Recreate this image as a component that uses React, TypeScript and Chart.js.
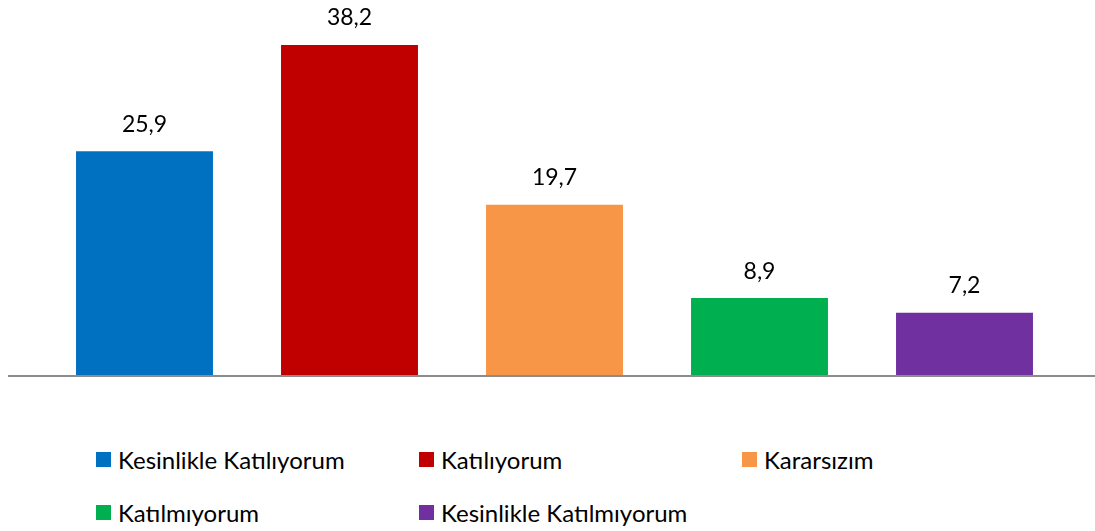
import React, { useEffect, useRef } from "react";
import { Chart, registerables } from "chart.js";

Chart.register(...registerables);

const categories = [
  "Kesinlikle Katılıyorum",
  "Katılıyorum",
  "Kararsızım",
  "Katılmıyorum",
  "Kesinlikle Katılmıyorum",
];
const values = [25.9, 38.2, 19.7, 8.9, 7.2];
const colors = ["#0070C0", "#C00000", "#F79646", "#00B050", "#7030A0"];

const FONT = "Lato, 'Open Sans', sans-serif";

const labelPlugin = {
  id: "valueLabels",
  afterDatasetsDraw(chart: any) {
    const ctx = chart.ctx;
    const meta = chart.getDatasetMeta(0);
    ctx.save();
    ctx.fillStyle = "#000";
    ctx.font = `23px ${FONT}`;
    ctx.textAlign = "center";
    ctx.textBaseline = "middle";
    meta.data.forEach((bar: any, i: number) => {
      const txt = values[i].toFixed(1).replace(".", ",");
      ctx.fillText(txt, bar.x, bar.y - 27);
    });
    ctx.restore();
  },
};

const baselinePlugin = {
  id: "baseline",
  afterDatasetsDraw(chart: any) {
    const ctx = chart.ctx;
    const y = chart.scales.y.getPixelForValue(0);
    ctx.save();
    ctx.strokeStyle = "#8c8c8c";
    ctx.lineWidth = 2;
    ctx.beginPath();
    ctx.moveTo(8, y + 1);
    ctx.lineTo(chart.width, y + 1);
    ctx.stroke();
    ctx.restore();
  },
};

export default function App() {
  const ref = useRef<HTMLCanvasElement | null>(null);
  useEffect(() => {
    document.body.style.margin = "0";
    const chart = new Chart(ref.current!, {
      type: "bar",
      data: {
        labels: categories,
        datasets: [
          {
            data: values,
            backgroundColor: colors,
            borderWidth: 0,
            categoryPercentage: 1,
            barPercentage: 0.668,
          },
        ],
      },
      options: {
        animation: false,
        responsive: false,
        maintainAspectRatio: false,
        layout: { padding: { left: 42, right: 28, top: 29.4, bottom: 25 } },
        plugins: { legend: { display: false }, tooltip: { enabled: false } },
        scales: {
          x: { display: false, grid: { display: false } },
          y: { display: false, min: 0, max: 40 },
        },
      },
      plugins: [labelPlugin, baselinePlugin],
    });
    return () => chart.destroy();
  }, []);

  return (
    <div style={{ position: "relative", width: 1095, height: 531, background: "#fff", fontFamily: FONT }}>
      <canvas ref={ref} width={1095} height={400} style={{ display: "block", width: 1095, height: 400 }} />
      {categories.map((c, i) => {
        const col = i % 3;
        const row = Math.floor(i / 3);
        return (
          <div
            key={c}
            style={{
              position: "absolute",
              left: 96 + col * 323,
              top: 459.5 + row * 53 - 15,
              height: 30,
              display: "flex",
              alignItems: "center",
              whiteSpace: "nowrap",
              fontSize: 24,
              color: "#000",
            }}
          >
            <span style={{ display: "inline-block", width: 15, height: 15, background: colors[i], marginRight: 7, flex: "none" }} />
            <span>{c}</span>
          </div>
        );
      })}
    </div>
  );
}
